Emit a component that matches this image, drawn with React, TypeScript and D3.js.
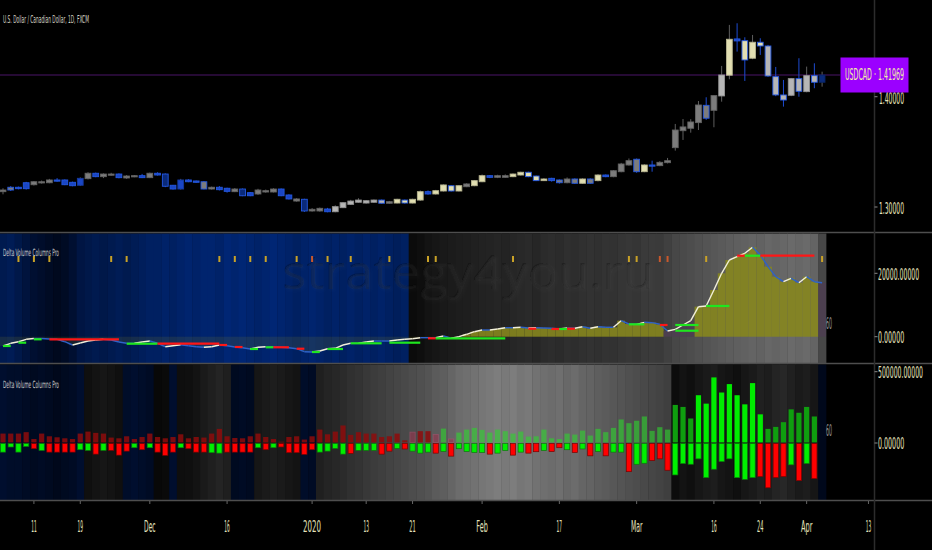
import React from 'react';
import * as d3 from 'd3';

const W = 932;
const H = 550;

// ---------- price data (USD/CAD daily, Nov 5 2019 .. Apr 3 2020) ----------
const open = [1.3139,1.3179,1.3179,1.3220,1.3202,1.3220,1.3220,1.3245,1.3245,1.3224,
1.3197,1.3257,1.3306,1.3275,1.3290,1.3299,1.3263,1.3275,1.3284,1.3266,
1.3306,1.3299,1.3197,1.3163,1.3245,1.3236,1.3229,1.3163,1.3179,1.3170,
1.3139,1.3163,1.3130,1.3118,1.3136,1.3136,1.3163,1.3109,1.3054,1.3070,
1.2964,1.2964,1.2982,1.2957,1.2994,1.3024,1.3043,1.3036,1.3043,1.3063,
1.3034,1.3036,1.3063,1.3036,1.3063,1.3139,1.3118,1.3145,1.3193,1.3145,
1.3184,1.3193,1.3229,1.3284,1.3269,1.3269,1.3275,1.3290,1.3315,1.3281,
1.3239,1.3260,1.3245,1.3220,1.3254,1.3215,1.3254,1.3239,1.3290,1.3275,
1.3320,1.3381,1.3433,1.3320,1.3381,1.3375,1.3402,1.3538,1.3692,1.3714,
1.3765,1.3922,1.3877,1.4007,1.4195,1.4524,1.4508,1.4349,1.4494,1.4460,
1.4182,1.4016,1.4013,1.4164,1.4046,1.4191,1.4131];
const high = [1.3170,1.3190,1.3185,1.3228,1.3235,1.3240,1.3255,1.3262,1.3250,1.3230,
1.3268,1.3315,1.3312,1.3305,1.3310,1.3305,1.3290,1.3290,1.3300,1.3312,
1.3315,1.3305,1.3200,1.3255,1.3252,1.3240,1.3235,1.3185,1.3190,1.3175,
1.3172,1.3168,1.3135,1.3165,1.3158,1.3170,1.3168,1.3115,1.3080,1.3075,
1.2990,1.2995,1.2992,1.3015,1.3045,1.3065,1.3080,1.3062,1.3068,1.3068,
1.3055,1.3075,1.3068,1.3075,1.3150,1.3150,1.3155,1.3205,1.3198,1.3198,
1.3215,1.3245,1.3295,1.3290,1.3292,1.3295,1.3305,1.3320,1.3320,1.3285,
1.3262,1.3265,1.3250,1.3268,1.3260,1.3260,1.3260,1.3298,1.3295,1.3335,
1.3400,1.3440,1.3440,1.3388,1.3420,1.3415,1.3445,1.3753,1.3798,1.3796,
1.3961,1.3995,1.4010,1.4279,1.4651,1.4666,1.4539,1.4560,1.4530,1.4470,
1.4270,1.4152,1.4170,1.4349,1.4273,1.4303,1.4227];
const low = [1.3115,1.3145,1.3160,1.3158,1.3195,1.3212,1.3215,1.3230,1.3198,1.3188,
1.3190,1.3250,1.3270,1.3262,1.3285,1.3260,1.3255,1.3270,1.3262,1.3262,
1.3285,1.3180,1.3158,1.3158,1.3225,1.3220,1.3160,1.3158,1.3150,1.3130,
1.3135,1.3098,1.3098,1.3110,1.3130,1.3132,1.3098,1.3068,1.3048,1.2955,
1.2958,1.2958,1.2952,1.2952,1.2990,1.3018,1.3038,1.3030,1.3038,1.3030,
1.3030,1.3032,1.3030,1.3032,1.3055,1.3112,1.3112,1.3140,1.3140,1.3140,
1.3180,1.3188,1.3225,1.3262,1.3262,1.3265,1.3270,1.3285,1.3270,1.3235,
1.3235,1.3230,1.3212,1.3215,1.3210,1.3210,1.3210,1.3232,1.3270,1.3270,
1.3315,1.3375,1.3310,1.3315,1.3320,1.3370,1.3395,1.3511,1.3608,1.3674,
1.3698,1.3790,1.3723,1.3955,1.4158,1.4409,1.4143,1.4340,1.4379,1.4180,
1.4005,1.3910,1.4005,1.4000,1.4040,1.4077,1.4091];
const close = [1.3154,1.3154,1.3166,1.3166,1.3229,1.3229,1.3245,1.3236,1.3202,1.3193,
1.3260,1.3306,1.3275,1.3299,1.3299,1.3266,1.3281,1.3284,1.3266,1.3306,
1.3290,1.3188,1.3163,1.3245,1.3229,1.3224,1.3163,1.3179,1.3157,1.3142,
1.3163,1.3102,1.3102,1.3154,1.3148,1.3163,1.3102,1.3073,1.3073,1.2964,
1.2979,1.2988,1.2957,1.3003,1.3039,1.3054,1.3063,1.3057,1.3063,1.3034,
1.3048,1.3070,1.3036,1.3070,1.3139,1.3118,1.3148,1.3200,1.3145,1.3193,
1.3209,1.3239,1.3284,1.3269,1.3284,1.3284,1.3299,1.3315,1.3275,1.3239,
1.3254,1.3239,1.3220,1.3254,1.3215,1.3254,1.3215,1.3290,1.3275,1.3329,
1.3390,1.3420,1.3320,1.3381,1.3372,1.3405,1.3420,1.3698,1.3726,1.3771,
1.3925,1.3805,1.4010,1.4197,1.4521,1.4506,1.4333,1.4494,1.4460,1.4188,
1.4016,1.3970,1.4164,1.4049,1.4191,1.4131,1.4197];
// indicator bar-colour state per candle (G gray, L light, C cream, B blue, N navy)
const candleTone = "GGBBGGGBBB" + "BGBGGBGGBG" + "BNBBBBGGBB" + "GNBGGGBBGN" + "GGBLLLLLLL" +
  "GCCCCBCCCC" + "GCCBGGCCCC" + "CBGGGCGCBG" + "GGGCBGGGGG" + "GGGLCBCCCL" + "LLLLLLN";

const priceTicks = [1.3, 1.4];
const lastPrice = 1.41969;
const symbol = "USDCAD";
const titleText = "U.S. Dollar / Canadian Dollar, 1D, FXCM";
const indicatorName = "Delta Volume Columns Pro";
const watermark = "strategy4you.ru";
const lengthLabel = "60";

const timeTickIdx = [4, 10, 19, 29, 40, 47, 53, 62, 72, 82, 92, 98, 104, 112];
const timeTickLabels = ["11", "19", "Dec", "16", "2020", "13", "21", "Feb", "17", "Mar", "16", "24", "Apr", "13"];

// ---------- middle pane: cumulative delta ----------
const cumDelta = [-2930,-2080,-1580,-820,-570,-570,-730,-820,-1580,-2620,
-1990,-1360,-1040,-820,-1040,-1670,-2080,-2080,-1670,-1360,
-2080,-3155,-2840,-2520,-2840,-3155,-3340,-3155,-2620,-2840,
-3250,-3470,-3880,-3340,-3155,-3155,-3340,-3470,-3790,-4730,
-4830,-4510,-3790,-3660,-2620,-2080,-2080,-1670,-1360,-1360,
-1360,-1040,-820,-630,-315,-315,-315,220,-500,0,
760,1580,2110,2110,2430,2840,2840,2970,2745,2840,
2745,2650,2430,2745,2650,3155,2650,3155,2970,2970,
5050,4010,3910,4540,4420,3910,1800,2330,3690,5050,
9470,9690,14730,20000,24200,25240,26310,28200,25780,22090,
18930,17350,18420,17040,18930,17350,17040];
const cumWeakIdx = [86, 87, 88, 89, 106];
const midTicks = [0, 20000];

const levelStart = [0, 2, 4, 6, 16, 20, 28, 30, 32, 34, 35, 38, 40, 42, 45, 50, 55, 56, 68, 71, 72, 73, 81, 85, 87, 87, 91, 95, 96, 98];
const levelEnd =   [1, 3, 5, 15, 20, 28, 29, 31, 33, 35, 37, 39, 41, 44, 49, 54, 56, 65, 69, 72, 73, 74, 83, 86, 90, 90, 94, 96, 98, 105];
const levelVal =   [-2930,-1890,-820,-820,-2210,-2210,-2620,-3250,-3880,-3340,-3340,-3790,-4830,-3880,-2080,-1890,-500,-500,2520,2430,2430,2520,3910,3690,3690,1890,9690,25550,25550,25550];
const levelKind = "GGGRGRRRGGRRGGGGRGRRGRGRGGGRGR";

const markerIdx = [2, 4, 6, 14, 16, 28, 30, 32, 34, 38, 40, 42, 45, 50, 55, 56, 66, 81, 82, 85, 86, 91, 106];
const markerKind = "YYYYYYYYYYOYYYYYYYYOOYY";

// background tone per bar (negative = blue hue, positive = gray level)
const midBg = [-0.55,-0.6,-0.5,-0.4,-0.3,-0.25,-0.2,-0.15,-0.2,-0.3,
-0.45,-0.5,-0.55,-0.5,-0.55,-0.6,-0.55,-0.6,-0.65,-0.7,
-0.7,-0.75,-0.7,-0.75,-0.8,-0.75,-0.8,-0.8,-0.75,-0.85,
-0.8,-0.85,-0.8,-0.75,-0.8,-0.85,-0.8,-0.75,-0.7,-0.75,
-0.8,-0.75,-0.7,-0.75,-0.7,-0.75,-0.7,-0.75,-0.7,-0.75,
-0.7,-0.65,-0.7,
0.03,0.05,0.08,0.1,0.12,0.13,0.14,0.15,0.16,0.17,
0.18,0.19,0.18,0.2,0.21,0.22,0.2,0.23,0.24,0.23,
0.25,0.24,0.26,0.27,0.26,0.28,0.27,0.29,0.3,0.29,
0.32,0.33,0.32,0.36,0.4,0.42,0.44,0.46,0.48,0.5,
0.52,0.54,0.55,0.56,0.58,0.57,0.6,0.58,0.6,0.62,
0.6,0.62,0.58,0.4];

// ---------- bottom pane: delta volume columns (thousands) ----------
const volUp = [66,66,66,76,28,66,47,40,33,28,
66,80,71,66,38,33,47,28,42,66,
42,33,42,61,33,42,38,66,99,47,
35,33,47,66,42,28,9,42,47,24,
47,94,61,80,123,57,76,66,66,42,
47,66,19,76,83,83,59,101,28,73,
94,106,92,73,94,83,66,80,45,47,
94,33,28,66,59,87,52,99,76,106,
165,139,156,186,85,111,94,267,253,172,
335,276,460,354,413,335,271,420,201,99,
113,146,236,212,253,186,3];
const volDown = [64,28,64,24,40,52,64,64,64,64,
47,52,78,52,52,85,57,33,47,33,
64,87,64,33,40,64,64,68,71,64,
64,64,64,33,47,33,28,68,68,80,
47,64,57,38,78,73,52,52,52,78,
57,38,42,57,71,64,71,59,92,40,
59,66,66,78,71,52,85,64,71,61,
52,59,33,47,66,42,90,59,90,64,
64,201,149,142,123,111,191,224,144,149,
111,243,184,130,111,243,255,243,236,314,
243,236,153,264,144,250,3];
const volDownKind = "GGGGRGRRRR" + "GGRGRRRGRG" + "RRRGRRRGGR" + "RRRGRGRRRR" + "RGGGGRGGGR" +
  "RGRGGGRGRG" + "GGGRGGRGRR" + "GRRGRGRGRG" + "GRGGRRRGGG" + "GGGGGGGGRR" + "RRGRGRR";
const volUpKind = "r".repeat(53) + "prrpgp" + "g".repeat(28) + "ddd" + "G".repeat(9) + "d".repeat(7) + "r";
const botTicks = [0, 500];

const botBg = [-0.35,-0.3,-0.3,-0.25,-0.2,-0.25,-0.2,-0.15,-0.2,-0.25,-0.35,
0.06,0.08,0.1,0.08,0.06,
-0.3,-0.35,-0.3,-0.25,
0.02,0.03,
-0.35,
0.05,0.06,0.08,
0.12,0.15,0.18,0.15,
-0.2,-0.25,-0.2,
0.1,0.12,0.14,0.12,0.1,0.08,
-0.3,-0.25,
0.15,0.18,0.2,0.22,0.25,0.27,0.3,0.32,0.34,0.36,0.38,0.4,
0.42,0.44,0.46,0.5,0.52,0.56,0.6,0.62,0.64,0.66,
0.68,0.7,0.68,0.7,0.66,0.68,0.64,0.62,0.6,0.62,0.58,0.6,
0.56,0.55,0.52,0.5,0.48,0.46,0.44,0.42,0.4,0.38,0.36,0.34,
0.04,0.08,0.06,0.1,0.12,0.14,0.1,0.08,0.06,0.1,0.12,0.16,0.14,0.18,0.2,0.16,0.12,0.14,0.1,
-0.15];

// ---------- layout ----------
const N = open.length;
const AXIS_X = 874.5;
const x = d3.scaleLinear().domain([0, N - 1]).range([3, 822.1]);
const step = x(1) - x(0);
const yP = d3.scaleLinear().domain([1.3, lastPrice]).range([207, 75]);
const yM = d3.scaleLinear().domain([0, 20000]).range([336.7, 273.3]);
const yB = d3.scaleLinear().domain([0, 500]).range([443, 371.7]);

const blueTone = d3.interpolateRgb('#00030c', '#002c86');
const grayTone = d3.interpolateRgb('#060606', '#a8a8a8');
const grayToneB = d3.interpolateRgb('#050505', '#b0b0b0');
const toneFill: Record<string, string> = { G: '#7c7c7c', L: '#b6b6b6', C: '#e2dfb2', B: '#1a46c4', N: '#0a2a7a' };

const FONT_NAME = 'DejaVu Sans';
const FONT = "'DejaVu Sans', 'Liberation Sans', sans-serif";
const AXIS_TXT = '#e4e2bc';

let measureCtx: CanvasRenderingContext2D | null = null;
function measure(s: string, size: number) {
  if (!measureCtx && typeof document !== 'undefined') {
    measureCtx = document.createElement('canvas').getContext('2d');
  }
  if (!measureCtx) return s.length * size * 0.6;
  measureCtx.font = `${size}px '${FONT_NAME}'`;
  return measureCtx.measureText(s).width;
}

// text squeezed horizontally to a target width (the reference is horizontally condensed)
function T(props: { x: number; y: number; w: number; size: number; fill: string; anchor?: string; children: string }) {
  const nat = measure(props.children, props.size);
  const sx = props.w / nat;
  return (
    <text transform={`translate(${props.x},${props.y}) scale(${sx},1)`} fontSize={props.size} fill={props.fill}
      textAnchor={props.anchor || 'start'} dominantBaseline="central" fontFamily={FONT}>{props.children}</text>
  );
}

function timeLabelWidth(s: string) {
  if (/^\d{4}$/.test(s)) return 18;
  if (/^\d\d$/.test(s)) return s[0] === '1' ? 5.5 : 6.5;
  return 11.5;
}

export default function App() {
  const idx = d3.range(N);
  return (
    <svg width={W} height={H} style={{ position: 'fixed', left: 0, top: 0, background: '#000' }}>
      <defs>
        <filter id="wmShadow" x="-5%" y="-20%" width="110%" height="140%">
          <feDropShadow dx="2" dy="2" stdDeviation="1.5" floodColor="#ffffff" floodOpacity="0.07" />
        </filter>
      </defs>
      <rect x={0} y={0} width={W} height={H} fill="#000" />

      {/* ---- middle pane background ---- */}
      {idx.map(i => (
        <rect key={'mb' + i} x={x(i) - step / 2} y={233.5} width={step + 0.4} height={129.5}
          fill={midBg[i] < 0 ? blueTone(-midBg[i]) : grayTone(midBg[i])} />
      ))}
      {/* ---- bottom pane background ---- */}
      {idx.map(i => (
        <rect key={'bb' + i} x={x(i) - step / 2} y={364.5} width={step + 0.4} height={135.5}
          fill={botBg[i] < 0 ? blueTone(-botBg[i] * 0.8) : grayToneB(botBg[i])} />
      ))}

      {/* watermark */}
      <text x={282} y={289} fontSize={48} fill="rgba(0,0,0,0.24)" textLength={372} filter="url(#wmShadow)"
        lengthAdjust="spacingAndGlyphs" fontFamily="'Open Sans', 'DejaVu Sans', sans-serif">{watermark}</text>

      {/* ---- separators ---- */}
      {[232.5, 363.5, 500.5].map(yy => (
        <line key={'sep' + yy} x1={0} x2={W} y1={yy} y2={yy} stroke="#4e4e4e" strokeWidth={1.6} />
      ))}
      <line x1={AXIS_X} x2={AXIS_X} y1={0} y2={H} stroke="#2c2c2c" strokeWidth={1.5} />

      {/* ---- price pane ---- */}
      <line x1={0} x2={840} y1={yP(lastPrice)} y2={yP(lastPrice)} stroke="#4a1468" strokeWidth={1} />
      {idx.map(i => {
        const down = close[i] < open[i];
        const fill = toneFill[candleTone[i]];
        const top = yP(Math.max(open[i], close[i]));
        const bot = yP(Math.min(open[i], close[i]));
        const border = down ? '#2458e0' : (d3.color(fill) as any).darker(0.6).toString();
        return (
          <g key={'c' + i}>
            <line x1={x(i)} x2={x(i)} y1={yP(high[i])} y2={yP(low[i])} stroke={down ? '#1d4bd0' : '#5e5e5e'} strokeWidth={1} />
            <rect x={x(i) - 2.9} y={top} width={5.8} height={Math.max(1.2, bot - top)} fill={fill} stroke={border} strokeWidth={0.9} />
          </g>
        );
      })}

      {/* ---- middle pane: columns, line, levels, markers ---- */}
      {idx.map(i => {
        const v = cumDelta[i];
        const y0 = yM(0), y1 = yM(v);
        const weak = cumWeakIdx.includes(i);
        return (
          <rect key={'col' + i} x={x(i) - step / 2} y={Math.min(y0, y1)} width={step} height={Math.abs(y1 - y0)}
            fill={weak ? '#4d3f50' : '#86861e'} opacity={weak ? 0.95 : (v < 0 ? 0.16 : 0.9)} />
        );
      })}
      {idx.slice(1).map(i => (
        <line key={'ln' + i} x1={x(i - 1)} x2={x(i)} y1={yM(cumDelta[i - 1])} y2={yM(cumDelta[i])}
          stroke={cumDelta[i] > cumDelta[i - 1] ? '#f2f0da' : '#2e62c8'} strokeWidth={1.4} />
      ))}
      {levelStart.map((s, k) => (
        <line key={'lv' + k} x1={x(s)} x2={x(levelEnd[k])} y1={yM(levelVal[k])} y2={yM(levelVal[k])}
          stroke={levelKind[k] === 'R' ? '#ff1616' : '#1fe61f'} strokeWidth={2.2} />
      ))}
      {markerIdx.map((m, k) => (
        <rect key={'mk' + k} x={x(m) - 1} y={256} width={2} height={6}
          fill={markerKind[k] === 'O' ? '#c8582c' : '#c9a227'} />
      ))}

      {/* ---- bottom pane columns ---- */}
      {idx.map(i => {
        const k = volUpKind[i];
        const fill = k === 'r' ? '#8e0c0c' : k === 'p' ? '#a0304e' : k === 'g' ? '#2fd22f' : k === 'G' ? '#00ec00' : '#0f9e0f';
        const op = k === 'r' ? 0.85 : k === 'p' ? 0.55 : k === 'g' ? 0.62 : 1;
        const yt = yB(volUp[i]);
        const yd = yB(0) + (yB(0) - yB(volDown[i]));
        const dk = volDownKind[i] === 'G';
        return (
          <g key={'v' + i}>
            <rect x={x(i) - 2.6} y={yt} width={5.2} height={Math.max(0, yB(0) - 0.6 - yt)} fill={fill} opacity={op}
              stroke={k === 'p' ? '#c04a70' : 'none'} strokeWidth={0.8} />
            <rect x={x(i) - 2.6} y={yB(0) + 0.6} width={5.2} height={Math.max(0, yd - yB(0) - 0.6)}
              fill={dk ? '#00f000' : '#ff0000'} stroke={dk ? '#0a7a0a' : '#7a0000'} strokeWidth={0.7} />
          </g>
        );
      })}

      {/* titles */}
      <T x={3} y={19} w={86} size={11} fill="#d6d4c4">{titleText}</T>
      <T x={3} y={252.5} w={56} size={10} fill="#c8c8c8">{indicatorName}</T>
      <T x={3} y={384.5} w={56} size={10} fill="#c8c8c8">{indicatorName}</T>
      <T x={826} y={324} w={6} size={15} fill="#9a9a9a">{lengthLabel}</T>
      <T x={826} y={431} w={6} size={15} fill="#9a9a9a">{lengthLabel}</T>

      {/* ---- right axis ---- */}
      {priceTicks.map(p => (
        <g key={'pt' + p}>
          <line x1={AXIS_X} x2={AXIS_X + 3} y1={yP(p)} y2={yP(p)} stroke="#888" />
          <T x={879} y={yP(p) + 2} w={25} size={16} fill={AXIS_TXT}>{p.toFixed(5)}</T>
        </g>
      ))}
      {midTicks.map(v => {
        const s = v.toFixed(5);
        return (
          <g key={'mt' + v}>
            <line x1={AXIS_X} x2={AXIS_X + 3} y1={yM(v)} y2={yM(v)} stroke="#888" />
            <T x={878} y={yM(v) + 1.5} w={s.length * 3.75} size={16} fill={AXIS_TXT}>{s}</T>
          </g>
        );
      })}
      {botTicks.map(v => {
        const s = (v * 1000).toFixed(5);
        return (
          <g key={'bt' + v}>
            <line x1={AXIS_X} x2={AXIS_X + 3} y1={yB(v)} y2={yB(v)} stroke="#888" />
            <T x={878} y={yB(v) + 1} w={s.length * 3.75} size={16} fill={AXIS_TXT}>{s}</T>
          </g>
        );
      })}

      {/* last price label */}
      <rect x={840.5} y={yP(lastPrice) - 17.5} width={68} height={35} fill="#9b00ff" />
      <T x={845} y={yP(lastPrice)} w={59} size={16} fill="#f2efa6">{`${symbol} · ${lastPrice.toFixed(5)}`}</T>

      {/* ---- time axis ---- */}
      {timeTickIdx.map((t, k) => (
        <g key={'tt' + k}>
          <line x1={x(t)} x2={x(t)} y1={501} y2={504} stroke="#666" />
          <T x={x(t)} y={527} w={timeLabelWidth(timeTickLabels[k])} size={16} fill={AXIS_TXT} anchor="middle">{timeTickLabels[k]}</T>
        </g>
      ))}
    </svg>
  );
}
